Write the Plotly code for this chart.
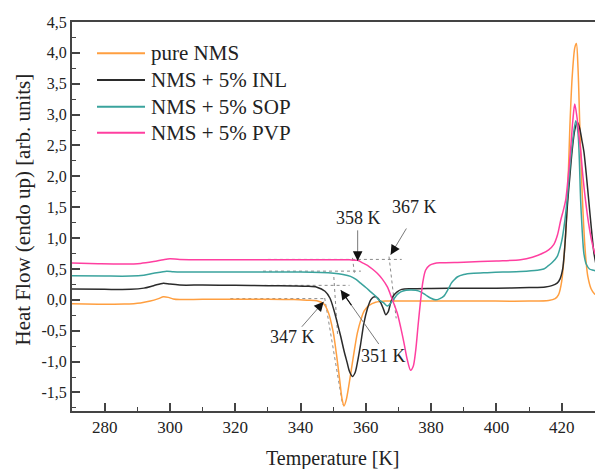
import plotly.graph_objects as go

# ---------------- data ----------------
T_nms = [270, 278, 286, 291, 294, 296.5, 298, 299.5, 301, 303, 310, 320, 330, 338, 342, 345, 347,
         348.5, 350, 351, 352, 352.7, 353.3, 354, 355, 356, 357.4, 358.5, 359.5, 361, 363, 366, 370,
         380, 395, 410, 416, 418, 419, 420, 421, 421.8, 422.5, 423.2, 424, 424.5, 425, 425.5, 426,
         426.5, 427, 427.5, 428, 429, 430, 431]
V_nms = [-0.065, -0.07, -0.068, -0.05, -0.02, 0.02, 0.05, 0.04, 0.015, 0.005, 0.01, 0.01, 0.01,
         0.005, -0.005, -0.015, -0.06, -0.2, -0.52, -0.88, -1.3, -1.6, -1.72, -1.62, -1.32, -0.98,
         -0.54, -0.32, -0.18, -0.09, -0.04, -0.02, -0.02, -0.02, -0.02, -0.02, -0.01, 0.02, 0.08,
         0.3, 0.9, 1.7, 2.8, 3.6, 4.08, 4.15, 3.75, 2.9, 2.1, 1.45, 0.95, 0.6, 0.38, 0.18, 0.1, 0.07]

T_inl = [270, 280, 288, 292, 295, 298, 300, 303, 310, 320, 330, 338, 342, 345, 347.5, 349, 350.2,
         351.3, 352.3, 353.3, 354.3, 355, 355.9, 356.7, 357.4, 358.4, 359.4, 360.5, 361.5, 362.3,
         363, 363.8, 364.6, 365.4, 366.1, 366.8, 367.6, 368.5, 369.6, 371, 374, 380, 390, 400, 410,
         415, 417, 418.6, 419.5, 420.3, 421, 421.7, 422.5, 423.2, 424, 424.8, 425.5, 426.2, 426.8,
         427.5, 428.3, 429.1, 429.9, 431]
V_inl = [0.175, 0.17, 0.17, 0.19, 0.23, 0.27, 0.255, 0.24, 0.24, 0.235, 0.23, 0.225, 0.22, 0.205,
         0.14, 0.03, -0.16, -0.38, -0.59, -0.82, -1.02, -1.16, -1.24, -1.18, -1.02, -0.72, -0.38,
         -0.14, 0.0, 0.045, 0.05, 0.02, -0.05, -0.15, -0.24, -0.2, -0.05, 0.07, 0.13, 0.17, 0.18,
         0.185, 0.19, 0.19, 0.2, 0.21, 0.23, 0.27, 0.34, 0.5, 0.9, 1.5, 2.0, 2.42, 2.75, 2.88, 2.78,
         2.58, 2.4, 2.05, 1.6, 1.15, 0.75, 0.45]

T_sop = [270, 280, 288, 292, 295, 299, 301, 304, 320, 340, 350.2, 353, 355.3, 357, 358.4, 360,
         361.5, 363, 364, 365.5, 366.6, 368.1, 369.5, 370.7, 372.3, 373.7, 375.3, 376.8, 378.3,
         379.8, 381.4, 382.7, 383.9, 385.3, 386.2, 387, 388, 390, 393, 397.2, 402, 407.4, 412.5,
         414.5, 415.6, 417, 418.6, 420, 421, 421.8, 422.6, 423.4, 424.3, 425, 425.8, 426.3, 426.8,
         427.5, 428.5, 429.8, 431]
V_sop = [0.39, 0.385, 0.385, 0.4, 0.43, 0.465, 0.455, 0.45, 0.45, 0.45, 0.43, 0.41, 0.38, 0.33,
         0.27, 0.2, 0.13, 0.06, 0.0, -0.05, -0.1, -0.02, 0.08, 0.13, 0.155, 0.16, 0.155, 0.13, 0.08,
         0.03, 0.0, 0.02, 0.06, 0.18, 0.27, 0.32, 0.37, 0.41, 0.43, 0.44, 0.45, 0.46, 0.48, 0.5,
         0.54, 0.6, 0.7, 0.95, 1.3, 1.7, 2.2, 2.6, 2.9, 2.7, 1.61, 1.1, 0.75, 0.58, 0.5, 0.48, 0.46]

T_pvp = [270, 278, 286, 291, 295, 298, 300, 303, 320, 340, 350, 355, 357.4, 359, 360.5, 362,
         363.5, 365, 366.6, 368, 369.6, 370.7, 371.7, 372.7, 373.7, 374.5, 375.3, 376, 376.8,
         377.5, 378.3, 379.5, 381, 383, 390, 400, 407.4, 411, 414, 416, 417.6, 418.7, 419.7, 420.5,
         421.2, 422, 422.7, 423.4, 424, 424.7, 425.3, 425.8, 426.5, 427.3, 428.2, 429.2, 430, 431]
V_pvp = [0.595, 0.585, 0.58, 0.59, 0.62, 0.65, 0.665, 0.655, 0.65, 0.65, 0.65, 0.648, 0.64, 0.6,
         0.56, 0.5, 0.43, 0.34, 0.21, 0.02, -0.21, -0.45, -0.7, -0.97, -1.14, -1.08, -0.81, -0.42,
         0.0, 0.3, 0.48, 0.56, 0.59, 0.6, 0.61, 0.63, 0.65, 0.69, 0.75, 0.81, 0.9, 1.05, 1.29, 1.45,
         1.61, 2.0, 2.42, 2.9, 3.17, 2.95, 2.65, 2.42, 2.0, 1.61, 1.25, 0.95, 0.78, 0.65]

series_names = ["pure NMS", "NMS + 5% INL", "NMS + 5% SOP", "NMS + 5% PVP"]
series_T = [T_nms, T_inl, T_sop, T_pvp]
series_V = [V_nms, V_inl, V_sop, V_pvp]

# onset construction lines (dashed): x pair, y pair
guide_x = [(318.5, 347.5), (347.4, 352.9), (329, 355), (350.2, 351.4),
           (328.5, 358.5), (355.9, 356.6), (330, 371), (367.1, 369.3)]
guide_y = [(0.02, 0.02), (0.03, -1.7), (0.235, 0.235), (0.37, -0.6),
           (0.465, 0.465), (0.68, 0.40), (0.655, 0.655), (0.70, -0.3)]

# onset labels and arrows
onset_text = ["347 K", "351 K", "358 K", "367 K"]
label_T = [337.6, 365.3, 357.8, 375.0]
label_V = [-0.605, -0.91, 1.32, 1.50]
arrow_tail_T = [340.0, 364.3, 357.5, 372.7]
arrow_tail_V = [-0.46, -0.74, 1.15, 1.18]
arrow_tip_T = [347.1, 352.3, 357.5, 367.6]
arrow_tip_V = [-0.03, 0.16, 0.63, 0.73]

x_ticks = [280, 300, 320, 340, 360, 380, 400, 420]
y_ticks = [-1.5, -1.0, -0.5, 0.0, 0.5, 1.0, 1.5, 2.0, 2.5, 3.0, 3.5, 4.0, 4.5]
y_ticktext = ["-1,5", "-1,0", "-0,5", "0,0", "0,5", "1,0", "1,5", "2,0", "2,5", "3,0", "3,5", "4,0", "4,5"]

# ---------------- styling ----------------
colors = ["#ff9f40", "#2b2b2b", "#3aa39d", "#ff3fa0"]
FONT = "Liberation Serif"
W, H = 595, 469
ML, MR, MT, MB = 72, 0, 22, 58
PW, PH = W - ML - MR, H - MT - MB


def px_x(p):
    return (p - ML) / PW


def px_y(p):
    return (H - MB - p) / PH


fig = go.Figure()

for xs, ys in zip(guide_x, guide_y):
    fig.add_trace(go.Scatter(x=list(xs), y=list(ys), mode="lines", showlegend=False,
                             hoverinfo="skip",
                             line=dict(color="#8a8a8a", width=1, dash="3px,3px")))

for name, xs, ys, c in zip(series_names, series_T, series_V, colors):
    fig.add_trace(go.Scatter(x=xs, y=ys, mode="lines", name=name, showlegend=False,
                             line=dict(color=c, width=1.5, shape="spline", smoothing=0.8)))

annotations = []
shapes = []
for t, x, y in zip(onset_text, label_T, label_V):
    annotations.append(dict(x=x, y=y, xref="x", yref="y", text=t, showarrow=False,
                            font=dict(family=FONT, size=18, color="#222")))
for tx, ty, hx, hy in zip(arrow_tail_T, arrow_tail_V, arrow_tip_T, arrow_tip_V):
    annotations.append(dict(x=hx, y=hy, ax=tx, ay=ty, xref="x", yref="y", axref="x", ayref="y",
                            text="", showarrow=True, arrowhead=0, arrowwidth=1,
                            arrowcolor="#7a7a7a"))
    annotations.append(dict(x=hx, y=hy, ax=hx + 0.3 * (tx - hx), ay=hy + 0.3 * (ty - hy),
                            xref="x", yref="y", axref="x", ayref="y",
                            text="", showarrow=True, arrowhead=2, arrowsize=1.6, arrowwidth=1.2,
                            arrowcolor="#111"))

# legend (drawn as key lines + labels, top-left inside the frame)
legend_rows_px = [53.3, 80.0, 106.7, 132.7]
for name, c, ry in zip(series_names, colors, legend_rows_px):
    shapes.append(dict(type="line", xref="paper", yref="paper",
                       x0=px_x(97), x1=px_x(145), y0=px_y(ry), y1=px_y(ry),
                       line=dict(color=c, width=2)))
    annotations.append(dict(x=px_x(149), y=px_y(ry), xref="paper", yref="paper",
                            xanchor="left", yanchor="middle", text=name, showarrow=False,
                            font=dict(family=FONT, size=21, color="#222")))

annotations.append(dict(x=px_x(22), y=px_y(209.5), xref="paper", yref="paper",
                        xanchor="center", yanchor="middle",
                        text="Heat Flow (endo up) [arb. units]", textangle=-90, showarrow=False,
                        font=dict(family=FONT, size=21, color="#222")))
annotations.append(dict(x=px_x(333), y=px_y(459), xref="paper", yref="paper",
                        xanchor="center", yanchor="middle",
                        text="Temperature [K]", showarrow=False,
                        font=dict(family=FONT, size=20, color="#222")))

fig.update_layout(
    width=W, height=H,
    margin=dict(l=ML, r=MR, t=MT, b=MB, autoexpand=False),
    paper_bgcolor="white", plot_bgcolor="white",
    font=dict(family=FONT, color="#222"),
    annotations=annotations, shapes=shapes, showlegend=False,
    xaxis=dict(range=[270, 430.2], showgrid=False, zeroline=False, automargin=False,
               showline=True, linecolor="#444", linewidth=2, mirror=True,
               ticks="inside", ticklen=8, tickwidth=1.5, tickcolor="#444",
               tickvals=x_ticks, ticktext=[str(v) for v in x_ticks],
               tickfont=dict(family=FONT, size=17, color="#222")),
    yaxis=dict(range=[-1.8, 4.5], showgrid=False, zeroline=False, automargin=False,
               showline=True, linecolor="#444", linewidth=2, mirror=False,
               ticks="inside", ticklen=8, tickwidth=1.5, tickcolor="#444",
               tickvals=y_ticks, ticktext=y_ticktext,
               tickfont=dict(family=FONT, size=16, color="#222")),
)
fig.update_xaxes(minor=dict(dtick=10, tick0=270, ticks="inside", ticklen=4, tickwidth=1.2,
                            tickcolor="#444"))
fig.update_yaxes(minor=dict(dtick=0.25, tick0=0, ticks="inside", ticklen=4, tickwidth=1.2,
                            tickcolor="#444"))

fig.write_html("out.html", config={"displayModeBar": False},
               post_script="document.body.style.margin='0';document.body.style.overflow='hidden';")
